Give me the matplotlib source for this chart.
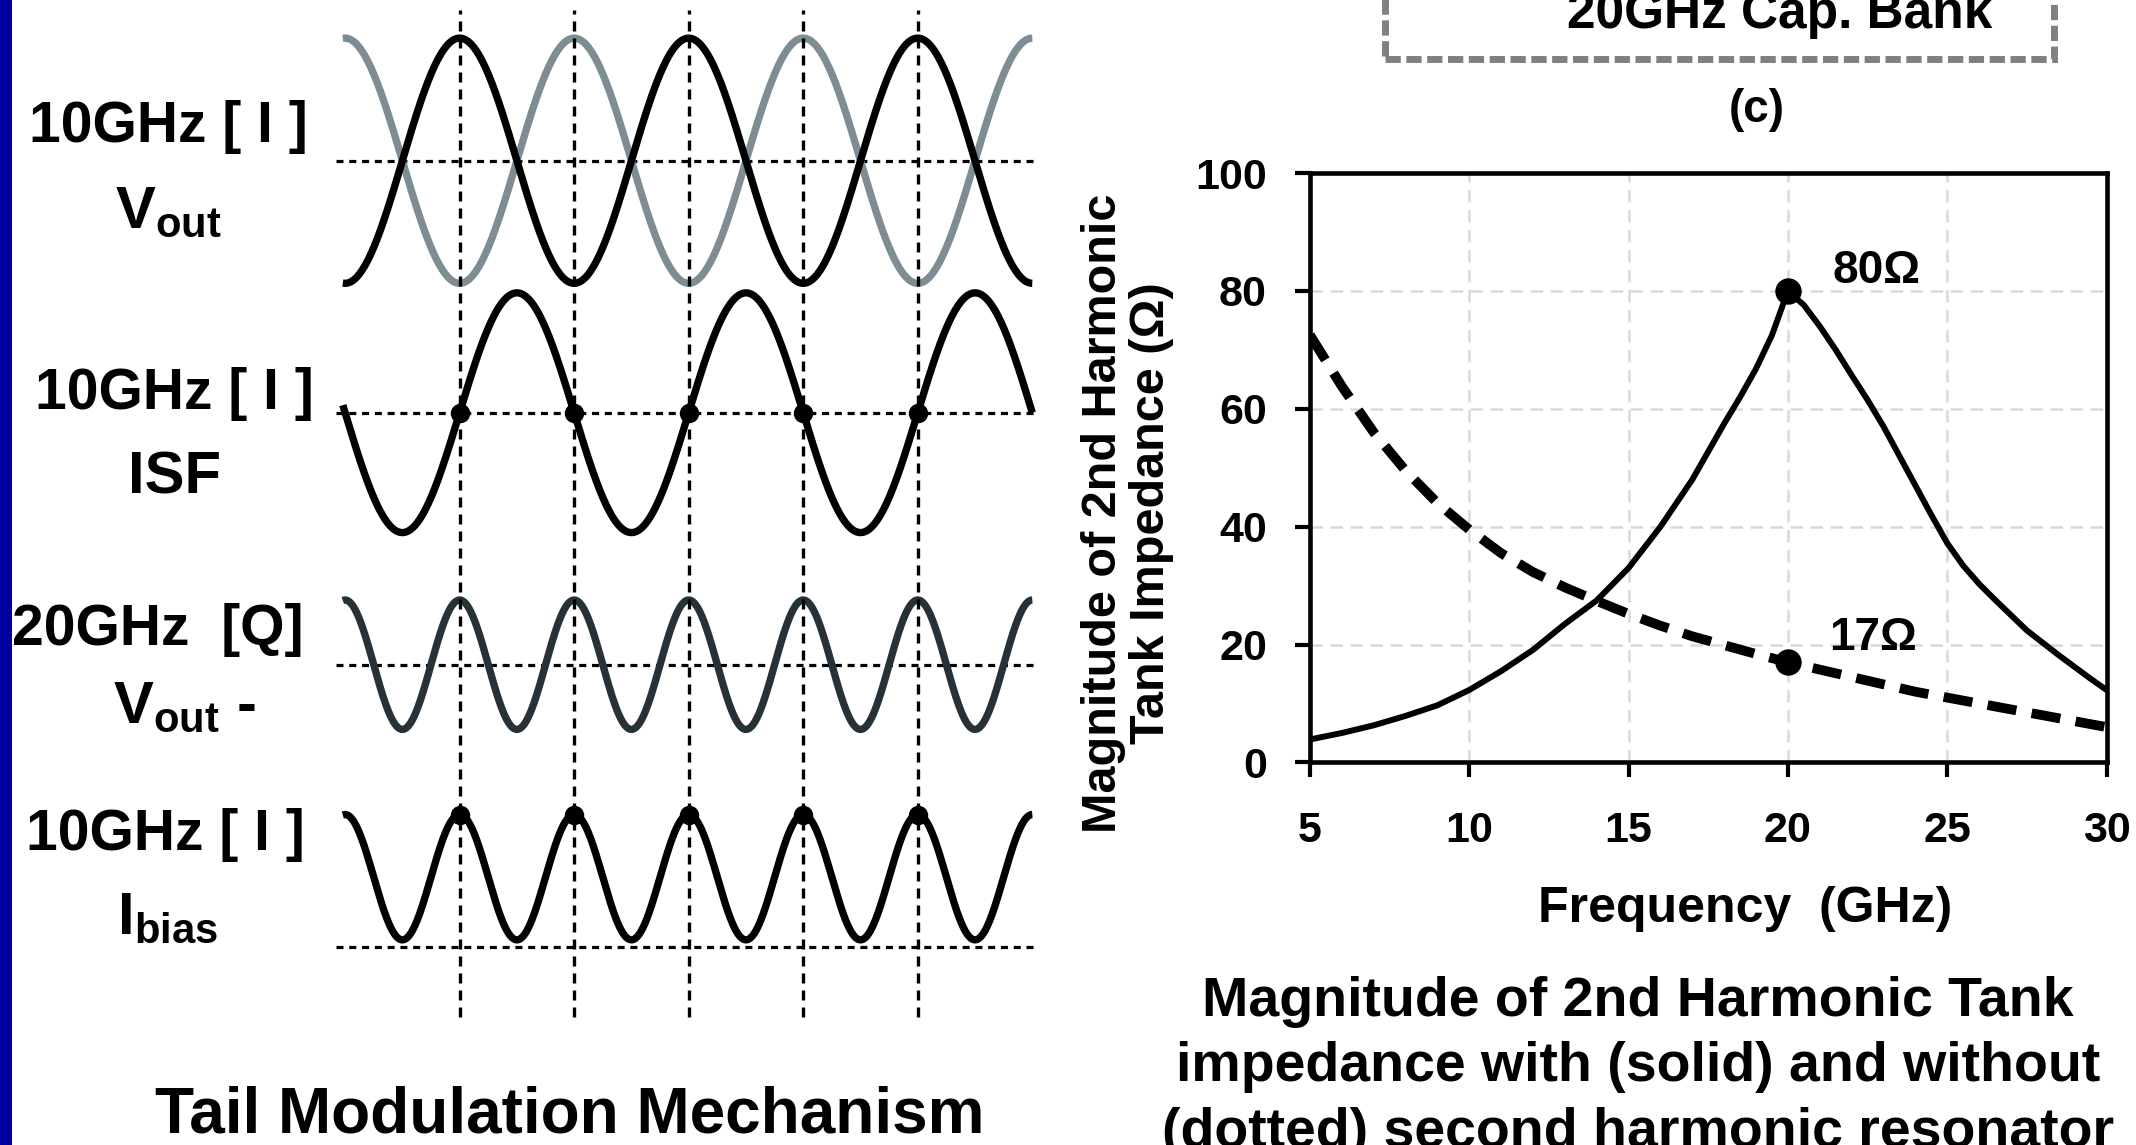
import numpy as np
import matplotlib
matplotlib.use("Agg")
import matplotlib.pyplot as plt
from matplotlib.patches import Rectangle

plt.rcParams['font.family'] = ['Liberation Sans', 'DejaVu Sans']
plt.rcParams['font.weight'] = 'bold'
plt.rcParams['mathtext.fontset'] = 'custom'
plt.rcParams['mathtext.rm'] = 'Liberation Sans:bold'
plt.rcParams['mathtext.it'] = 'Liberation Sans:bold'
plt.rcParams['mathtext.bf'] = 'Liberation Sans:bold'

# ---- left panel: tail modulation waveforms ----
row_top = ['10GHz [ I ]', '10GHz [ I ]', '20GHz  [Q]', '10GHz [ I ]']
row_name = [r'V$_{\mathregular{out}}$', 'ISF', r'V$_{\mathregular{out}}$ -', r'I$_{\mathregular{bias}}$']
wave_freq = [10, 10, 20, 20]          # GHz
wave_kind = ['cos', 'sin', 'cos', 'cos']
sample_t = [0, 50, 100, 150, 200]     # ps, dashed sampling instants

# ---- right panel: 2nd harmonic tank impedance ----
freq_with = [5, 6, 7, 8, 9, 10, 11, 12, 13, 14, 15, 16, 17, 18, 18.5, 19, 19.5, 19.8, 20,
             20.5, 21, 21.5, 22, 22.5, 23, 23.5, 24, 24.5, 25, 25.5, 26, 26.5, 27, 27.5,
             28, 28.5, 29, 29.5, 30]
z_with = [3.9, 5.0, 6.3, 7.9, 9.7, 12.3, 15.5, 19.1, 23.5, 27.5, 33.0, 40.0, 48.0, 57.5,
          62.0, 66.8, 72.5, 77.0, 80,
          77.6, 74.0, 70.0, 65.7, 61.5, 57.0, 52.0, 47.0, 42.0, 37.2, 33.4, 30.3, 27.6,
          25.0, 22.4, 20.3, 18.2, 16.2, 14.2, 12.3]
freq_without = [5, 6, 7, 8, 9, 10, 11, 12, 13, 14, 15, 16, 17, 18, 19, 20, 22, 24, 26, 28, 30]
z_without = [72.5, 63.8, 56.0, 49.5, 44.0, 39.5, 35.5, 32.3, 29.7, 27.4, 25.2, 23.2, 21.4,
             19.9, 18.4, 17.0, 14.5, 12.0, 10.0, 8.0, 6.0]
xticks = [5, 10, 15, 20, 25, 30]
yticks = [0, 20, 40, 60, 80, 100]
caption = ['Magnitude of 2nd Harmonic Tank',
           'impedance with (solid) and without',
           '(dotted) second harmonic resonator']

fig = plt.figure(figsize=(21.36, 11.45), dpi=100)
fig.add_artist(Rectangle((0, 0), 0.0056, 1, transform=fig.transFigure,
                         color='#0000a0', lw=0))

ax = fig.add_axes([0.1562, 0.1078, 0.3303, 0.8922])
ax.set_xlim(-55, 253)
ax.set_ylim(0, 750)
ax.axis('off')

t = np.linspace(-51, 250, 1500)
centers = [632, 447, 262, 106]
amps = [90, 88, 47.5, 46]
refs = [632, 447, 262, 55]


def wave(tt, f, kind):
    ph = 2 * np.pi * f * 1e-3 * np.asarray(tt, dtype=float)
    return np.cos(ph) if kind == 'cos' else np.sin(ph)


dot = dict(ls='none', marker='o', ms=13, color='black', zorder=5)
for i in range(4):
    ax.hlines(refs[i], -54, 251, colors='black', lw=2.3, linestyles=(0, (2.2, 1.8)))
    y = centers[i] + amps[i] * wave(t, wave_freq[i], wave_kind[i])
    if i == 0:
        ax.plot(t, 2 * centers[i] - y, color='#7d8d93', lw=5.3, solid_capstyle='butt')
        ax.plot(t, y, color='black', lw=5.3, solid_capstyle='butt')
    elif i == 2:
        ax.plot(t, y, color='#263238', lw=5.3, solid_capstyle='butt')
    else:
        ax.plot(t, y, color='black', lw=5.3, solid_capstyle='butt')
        ys = centers[i] + amps[i] * wave(sample_t, wave_freq[i], wave_kind[i])
        ax.plot(sample_t, ys, **dot)
ax.vlines(sample_t, 3, 743, colors='black', lw=2.4, linestyles=(0, (3, 2.1)))

top_pos = [(0.0787, 0.8762), (0.0816, 0.6424), (0.0740, 0.4367), (0.0775, 0.2578)]
name_pos = [(0.0790, 0.8009), (0.0815, 0.5688), (0.0862, 0.3688), (0.0784, 0.1849)]
for i in range(4):
    fig.text(*top_pos[i], row_top[i], fontsize=41, ha='center', va='baseline')
    fig.text(*name_pos[i], row_name[i], fontsize=43, ha='center', va='baseline')

fig.text(0.2669, 0.0105, 'Tail Modulation Mechanism', fontsize=46,
         ha='center', va='baseline')

# ---- right panel ----
fig.add_artist(Rectangle((0.6484, 0.9485), 0.3132, 0.2, transform=fig.transFigure,
                         fill=False, edgecolor='#808080', lw=5,
                         linestyle=(0, (2.2, 0.8))))
fig.text(0.8333, 0.9753, '20GHz Cap. Bank', fontsize=37, ha='center', va='baseline')
fig.text(0.8226, 0.8937, '(c)', fontsize=33, ha='center', va='baseline')

ax2 = fig.add_axes([0.6133, 0.3341, 0.3729, 0.5148])
ax2.set_xlim(5, 30)
ax2.set_ylim(0, 100)
ax2.set_xticks(xticks)
ax2.set_yticks(yticks)
ax2.grid(True, color='#d9d9d9', lw=1.8, linestyle=(0, (5, 3)))
ax2.set_axisbelow(True)
for sp in ax2.spines.values():
    sp.set_linewidth(3.3)
ax2.tick_params(axis='x', direction='out', length=11, width=3, pad=24, labelsize=31)
ax2.tick_params(axis='y', direction='out', length=11, width=3, pad=20, labelsize=31)

ax2.plot(freq_with, z_with, color='black', lw=4.3, solid_joinstyle='round', zorder=3)
ax2.plot(freq_without, z_without, color='black', lw=7, dashes=(3, 1.6), zorder=3)
k = int(np.argmax(z_with))
ax2.plot(freq_with[k], z_with[k], 'o', ms=18, color='black', zorder=4)
j = freq_without.index(20)
ax2.plot(freq_without[j], z_without[j], 'o', ms=18, color='black', zorder=4)
ax2.text(22.77, 81.4, '%dΩ' % z_with[k], fontsize=33, ha='center', va='baseline')
ax2.text(22.68, 19.0, '%dΩ' % round(z_without[j]), fontsize=33, ha='center', va='baseline')

fig.text(0.5166, 0.552, 'Magnitude of 2nd Harmonic', fontsize=35, rotation=90,
         ha='center', va='center')
fig.text(0.5392, 0.552, 'Tank Impedance (Ω)', fontsize=35, rotation=90,
         ha='center', va='center')
fig.text(0.8172, 0.1948, 'Frequency  (GHz)', fontsize=36, ha='center', va='baseline')

for n, line in enumerate(caption):
    fig.text(0.767, 0.1127 - n * 0.0572, line, fontsize=40, ha='center', va='baseline')

fig.savefig('out.png', dpi=100)
